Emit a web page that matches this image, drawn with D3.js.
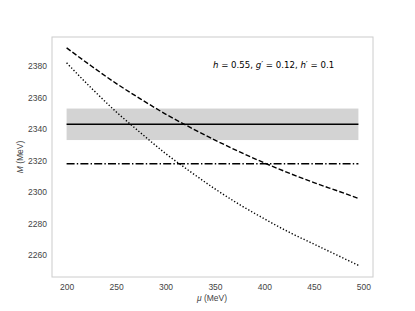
<!DOCTYPE html>
<html>
<head>
<meta charset="utf-8">
<script src="https://cdn.jsdelivr.net/npm/d3@7"></script>
<style>
  body { margin: 0; background: #fff; }
  svg { display: block; }
</style>
</head>
<body>
<div id="chart"></div>
<script>
// values
var mu = [200, 225, 250, 275, 300, 325, 350, 375, 400, 425, 450, 475, 495];
var dashedM = [2391.5, 2380, 2369, 2359, 2349.5, 2341, 2333, 2325.5, 2318.5, 2312, 2306, 2300.5, 2296];
var dottedM = [2382, 2366, 2351, 2337.5, 2324.5, 2313, 2302, 2292, 2283, 2274.5, 2267, 2259.5, 2253.5];
var solidM = 2343;      // central value
var bandM = [2333, 2353]; // grey band
var dashDotM = 2318;
var xTicks = [200, 250, 300, 350, 400, 450, 500];
var yTicks = [2260, 2280, 2300, 2320, 2340, 2360, 2380];

var W = 415, H = 311;
var m = {left: 52, right: 42, top: 37, bottom: 34};

var svg = d3.select("#chart").append("svg")
    .attr("width", W).attr("height", H);

var x = d3.scaleLinear().domain([185.25, 509.75]).range([m.left, W - m.right]);
var y = d3.scaleLinear().domain([2246.1, 2398.4]).range([H - m.bottom, m.top]);

var g = svg.append("g");

// band
g.append("rect")
    .attr("x", x(200)).attr("width", x(495) - x(200))
    .attr("y", y(bandM[1])).attr("height", y(bandM[0]) - y(bandM[1]))
    .attr("fill", "#d3d3d3");

var line = d3.line()
    .x(function(d) { return x(d[0]); })
    .y(function(d) { return y(d[1]); })
    .curve(d3.curveMonotoneX);

g.append("path")
    .datum(mu.map(function(v, i) { return [v, solidM]; }))
    .attr("d", line).attr("fill", "none")
    .attr("stroke", "#000").attr("stroke-width", 1.4);

g.append("path")
    .datum(mu.map(function(v, i) { return [v, dashDotM]; }))
    .attr("d", line).attr("fill", "none")
    .attr("stroke", "#000").attr("stroke-width", 1.4)
    .attr("stroke-dasharray", "8,2.2,1.4,2.2");

g.append("path")
    .datum(mu.map(function(v, i) { return [v, dashedM[i]]; }))
    .attr("d", line).attr("fill", "none")
    .attr("stroke", "#000").attr("stroke-width", 1.4)
    .attr("stroke-dasharray", "5,2.2");

g.append("path")
    .datum(mu.map(function(v, i) { return [v, dottedM[i]]; }))
    .attr("d", line).attr("fill", "none")
    .attr("stroke", "#000").attr("stroke-width", 1.4)
    .attr("stroke-dasharray", "1.3,2");

// axes, no tick marks
var xAxis = svg.append("g")
    .attr("transform", "translate(0," + (H - m.bottom) + ")")
    .call(d3.axisBottom(x).tickValues(xTicks).tickSize(0).tickPadding(7));
var yAxis = svg.append("g")
    .attr("transform", "translate(" + m.left + ",0)")
    .call(d3.axisLeft(y).tickValues(yTicks).tickSize(0).tickPadding(5).tickFormat(d3.format("d")));

[xAxis, yAxis].forEach(function(a) {
  a.select(".domain").remove();
  a.selectAll("text")
    .attr("fill", "#444")
    .style("font-family", "'Liberation Sans', Arial, sans-serif")
    .style("font-size", "8.5px");
});

// frame
svg.append("rect")
    .attr("x", m.left).attr("y", m.top)
    .attr("width", W - m.left - m.right).attr("height", H - m.top - m.bottom)
    .attr("fill", "none").attr("stroke", "#cccccc").attr("stroke-width", 1);

// labels
svg.append("text")
    .attr("x", 212).attr("y", 301)
    .attr("text-anchor", "middle")
    .attr("fill", "#444")
    .style("font-family", "'Liberation Sans', Arial, sans-serif")
    .style("font-size", "8.5px")
    .html("<tspan font-style='italic'>μ</tspan> (MeV)");

svg.append("text")
    .attr("transform", "translate(23,157) rotate(-90)")
    .attr("text-anchor", "middle")
    .attr("fill", "#444")
    .style("font-family", "'Liberation Sans', Arial, sans-serif")
    .style("font-size", "8.5px")
    .html("<tspan font-style='italic'>M</tspan> (MeV)");

svg.append("text")
    .attr("x", 213).attr("y", 68)
    .attr("fill", "#000")
    .style("font-family", "'DejaVu Sans', sans-serif")
    .style("font-size", "8.6px")
    .html("<tspan font-style='italic'>h</tspan> = 0.55, <tspan font-style='italic'>g</tspan>′ = 0.12, <tspan font-style='italic'>h</tspan>′ = 0.1");
</script>
</body>
</html>
